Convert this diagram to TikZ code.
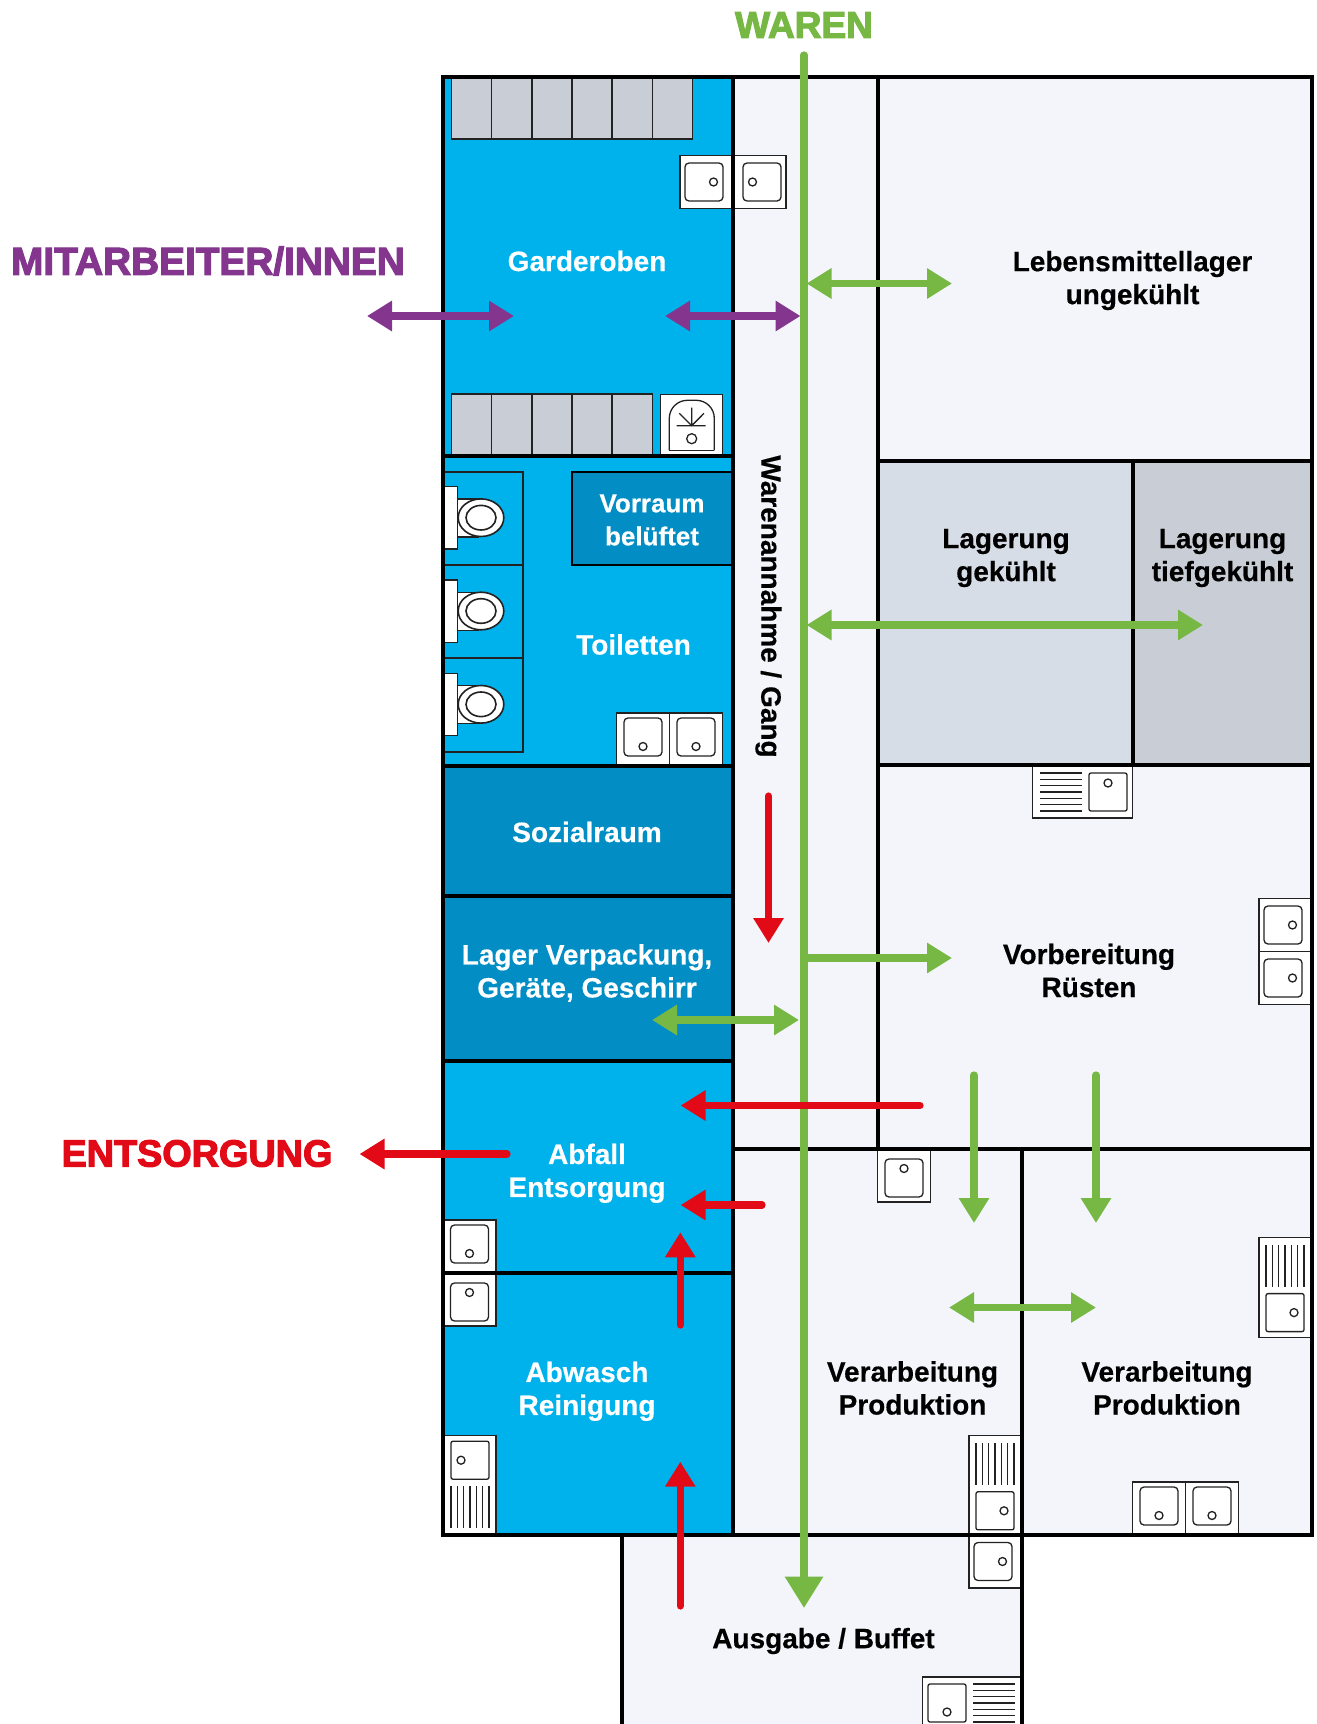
\documentclass[tikz,border=0pt]{standalone}
\usepackage{fontspec}
\setmainfont[BoldFeatures={FakeBold=0.4}]{Liberation Sans}
\newfontfamily\heavyfont[FakeBold=3]{Liberation Sans Bold}
\usetikzlibrary{arrows.meta}
\definecolor{cblue}{HTML}{00B2EC}
\definecolor{cdark}{HTML}{028EC4}
\definecolor{clight}{HTML}{F4F5FA}
\definecolor{ccool}{HTML}{D6DDE6}
\definecolor{cfreeze}{HTML}{C9CED6}
\definecolor{cgreen}{HTML}{76B843}
\definecolor{cpurple}{HTML}{84368F}
\definecolor{cred}{HTML}{E30A17}
\definecolor{cline}{HTML}{222222}
\tikzset{
  wall/.style={line width=1.6pt,draw=black},
  thin line/.style={line width=.65pt,draw=cline},
  unit/.style={thin line,fill=white},
  basin/.style={thin line,fill=white,rounded corners=2pt},
  flowg/.style={draw=cgreen,line width=3.6pt,line cap=round},
  flowp/.style={draw=cpurple,line width=3.6pt,line cap=round},
  flowr/.style={draw=cred,line width=3.6pt,line cap=round},
  tipg/.style={-{Triangle[length=12.5pt,width=14.5pt]}},
  tipm/.style={-{Triangle[length=15.7pt,width=18.3pt]}},
  tipb/.style={{Triangle[length=12.5pt,width=14.5pt]}-{Triangle[length=12.5pt,width=14.5pt]}},
  white label/.style={text=white,font=\fontsize{14}{16.5}\selectfont\bfseries,align=center,inner sep=0pt},
  black label/.style={text=black,font=\fontsize{14}{16.5}\selectfont\bfseries,align=center,inner sep=0pt},
  head label/.style={font=\fontsize{18.5}{22}\heavyfont,inner sep=0pt},
}
% wall mid point x, y, rotation
\newcommand{\sinkunit}[3]{%
  \begin{scope}[shift={(#1,#2)},rotate=#3]
    \draw[unit] (-26.5,0) rectangle (26.5,-53);
    \draw[basin] (-19,-10) rectangle (19,-48);
    \draw[thin line] (0,-19.5) circle[radius=4];
  \end{scope}}
\newcommand{\sinkdrain}[3]{%
  \begin{scope}[shift={(#1,#2)},rotate=#3]
    \draw[unit] (-50,0) rectangle (50,-53);
    \draw[thin line,fill=white,rounded corners=1pt] (-44.3,-8) rectangle (-6.3,-46);
    \draw[thin line] (-25.3,-18) circle[radius=4];
    \foreach \k in {8,14.33,20.67,27,33.33,39.67,46}{\draw[thin line] (0.7,-\k) -- (42.7,-\k);}
  \end{scope}}
\newcommand{\toiletunit}[1]{%
  \begin{scope}[yshift=#1*-.5pt]
    \draw[unit] (443,486.7) rectangle (457.3,549);
    \draw[unit] (457.3,499) rectangle (478,537);
    \draw[unit,line width=.8pt] (481,517.7) ellipse[x radius=22.8,y radius=18.8];
    \draw[unit,line width=.8pt] (481,517.7) ellipse[x radius=15,y radius=12.3];
  \end{scope}}
\begin{document}
\begin{tikzpicture}[x=.5pt,y=-.5pt]
\path[use as bounding box,fill=white] (0,0) rectangle (1317,1724);
\clip (0,0) rectangle (1317,1724);
% room fills
\fill[cblue] (443,77) rectangle (733,1535);
\fill[cdark] (443,766) rectangle (733,1061);
\fill[cdark] (572,472) rectangle (733,565);
\fill[clight] (733,77) rectangle (1312,1535);
\fill[clight] (622,1535) rectangle (1022,1730);
\fill[ccool] (878,461) rectangle (1133,765);
\fill[cfreeze] (1133,461) rectangle (1312,765);
% lockers
\foreach \k in {0,...,5}{\draw[thin line,fill=cfreeze] ({451.7+\k*40.1},77) rectangle ({451.7+(\k+1)*40.1},139);}
\foreach \k in {0,...,4}{\draw[thin line,fill=cfreeze] ({451.7+\k*40.1},394) rectangle ({451.7+(\k+1)*40.1},456);}
% shower
\draw[unit] (660.7,394.3) rectangle (722.7,456);
\draw[thin line,rounded corners=9pt] (669.3,450.3) -- (669.3,400.3) -- (714.3,400.3) -- (714.3,450.3);
\draw[thin line] (669.3,450.3) -- (714.3,450.3);
\draw[thin line] (676.7,425.7) -- (705.7,425.7) (691.7,407.7) -- (691.7,425.7) (679.3,413.3) -- (691.7,425.7) -- (704,413.3);
\draw[thin line] (691.7,438.7) circle[radius=5];
% cubicles and toilets
\draw[thin line] (443,472) rectangle (523,565) (443,565) rectangle (523,658) (443,658) rectangle (523,752);
\toiletunit{0}\toiletunit{93.3}\toiletunit{186.6}
% sinks
\sinkunit{733}{182}{90}
\sinkunit{733}{182}{-90}
\sinkunit{643}{766}{0}
\sinkunit{696}{766}{0}
\sinkunit{1312}{925}{90}
\sinkunit{1312}{978}{90}
\sinkunit{469.5}{1273}{0}
\sinkunit{469.5}{1273}{180}
\sinkunit{904}{1149}{180}
\sinkunit{1159}{1535}{0}
\sinkunit{1212}{1535}{0}
\sinkunit{1022}{1561.5}{90}
\sinkdrain{1022}{1485.5}{90}
\sinkdrain{1312}{1287.3}{90}
\sinkdrain{972.3}{1730}{0}
\sinkdrain{1082.7}{765}{180}
\sinkdrain{443}{1485.5}{-90}
% walls
\draw[wall] (443,77) rectangle (1312,1535);
\draw[wall] (733,77) -- (733,1535);
\draw[wall] (443,456) -- (733,456) (443,766) -- (733,766) (443,896) -- (733,896) (443,1061) -- (733,1061) (443,1273) -- (733,1273);
\draw[wall,line width=1.3pt] (733,472) -- (572,472) -- (572,565) -- (733,565);
\draw[wall] (878,77) -- (878,1149) (878,461) -- (1312,461) (878,765) -- (1312,765) (1133,461) -- (1133,765);
\draw[wall] (733,1149) -- (1312,1149) (1022,1149) -- (1022,1730) (622,1535) -- (622,1730);
% flows
\draw[flowg,tipm] (804,55) -- (804,1608);
\draw[flowg,tipb,line cap=butt] (806.5,283.5) -- (952,283.5);
\draw[flowg,tipb,line cap=butt] (806.5,625) -- (1203,625);
\draw[flowg,tipg,line cap=butt] (804,958) -- (952,958);
\draw[flowg,tipb,line cap=butt] (652,1020) -- (799,1020);
\draw[flowg,tipg] (974,1075) -- (974,1223);
\draw[flowg,tipg] (1096,1075) -- (1096,1223);
\draw[flowg,tipb,line cap=butt] (949,1307.5) -- (1096,1307.5);
\draw[flowp,tipb,line cap=butt] (367,316) -- (514,316);
\draw[flowp,tipb,line cap=butt] (665,316) -- (800.5,316);
\draw[flowr,tipg] (768.5,796) -- (768.5,943);
\draw[flowr,tipg] (920,1105.5) -- (680.6,1105.5);
\draw[flowr,tipg] (507,1154) -- (359.5,1154);
\draw[flowr,tipg] (762,1205) -- (680.6,1205);
\draw[flowr,tipg] (680.3,1325) -- (680.3,1232.3);
\draw[flowr,tipg] (680.3,1606) -- (680.3,1461.7);
% labels
\node[head label,text=cgreen] (waren) at (804,25) {WAREN};
\node[head label,text=cpurple,font=\fontsize{19.4}{22}\heavyfont] (mitarbeiter) at (208,261) {MITARBEITER/INNEN};
\node[head label,text=cred,font=\fontsize{18.9}{22}\heavyfont] (entsorgung) at (197,1153.5) {ENTSORGUNG};
\node[white label] (garderoben) at (587,261) {Garderoben};
\node[white label,font=\fontsize{13}{16.5}\selectfont\bfseries] (vorraum) at (652,520) {Vorraum\\belüftet};
\node[white label] (toiletten) at (633.5,644.5) {Toiletten};
\node[white label] (sozial) at (587,832) {Sozialraum};
\node[white label] (lager) at (587,973) {Lager Verpackung,\\Geräte, Geschirr};
\node[white label] (abfall) at (587,1173.3) {Abfall\\Entsorgung};
\node[white label] (abwasch) at (587,1391.3) {Abwasch\\Reinigung};
\node[black label] (lebensmittel) at (1132.5,280.5) {Lebensmittellager\\ungekühlt};
\node[black label] (gekuehlt) at (1006,558) {Lagerung\\gekühlt};
\node[black label] (tiefgekuehlt) at (1222.5,558) {Lagerung\\tiefgekühlt};
\node[black label] (vorbereitung) at (1089,970.5) {Vorbereitung\\Rüsten};
\node[black label] (verarb1) at (912.5,1388) {Verarbeitung\\Produktion};
\node[black label] (verarb2) at (1167,1388) {Verarbeitung\\Produktion};
\node[black label] (ausgabe) at (823.5,1641) {Ausgabe / Buffet};
\node[black label,rotate=-90] (gang) at (768.5,606.5) {Warenannahme / Gang};
\end{tikzpicture}
\end{document}
